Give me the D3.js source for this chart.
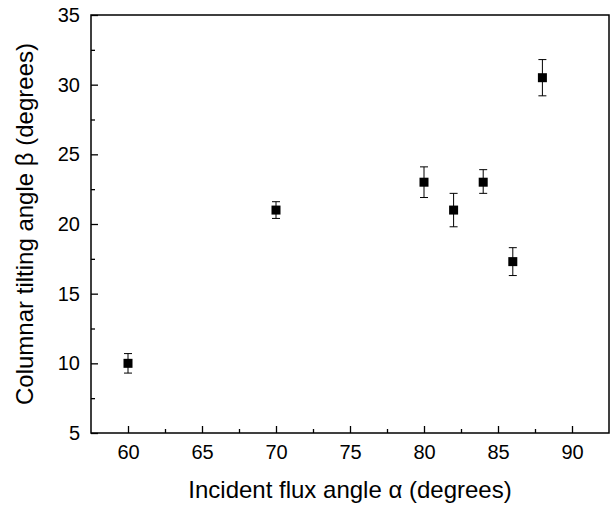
<!DOCTYPE html>
<html>
<head>
<meta charset="utf-8">
<title>Tilt angle</title>
<script src="https://d3js.org/d3.v7.min.js"></script>
<style>
body { margin: 0; background: #fff; }
text { font-family: "Liberation Sans", Arial, sans-serif; fill: #000; }
</style>
</head>
<body>
<script>
var alpha = [60, 70, 80, 82, 84, 86, 88];
var beta = [10.0, 21.0, 23.0, 21.0, 23.0, 17.3, 30.5];
var errLow = [9.3, 20.4, 21.9, 19.8, 22.2, 16.3, 29.2];
var errHigh = [10.7, 21.6, 24.1, 22.2, 23.9, 18.3, 31.8];
var xTicks = [60, 65, 70, 75, 80, 85, 90];
var yTicks = [5, 10, 15, 20, 25, 30, 35];

var margin = {top: 15, right: 5, bottom: 73, left: 91},
    width = 614 - margin.left - margin.right,
    height = 506 - margin.top - margin.bottom;

var svg = d3.select("body").append("svg")
    .attr("width", 614)
    .attr("height", 506);

var g = svg.append("g")
    .attr("transform", "translate(" + margin.left + "," + margin.top + ")");

var x = d3.scaleLinear().domain([57.5, 92.5]).range([0, width]);
var y = d3.scaleLinear().domain([5, 35]).range([height, 0]);

// minor ticks
var xMinor = d3.range(62.5, 92.5, 5);
var yMinor = d3.range(7.5, 35, 5);

g.append("g").attr("transform", "translate(0," + height + ")")
    .call(d3.axisBottom(x).tickValues(xMinor).tickSizeInner(-4).tickSizeOuter(0).tickFormat(""))
    .call(function(s) { s.select(".domain").remove(); });
g.append("g")
    .call(d3.axisLeft(y).tickValues(yMinor).tickSizeInner(-4).tickSizeOuter(0).tickFormat(""))
    .call(function(s) { s.select(".domain").remove(); });

g.append("g").attr("transform", "translate(0," + height + ")")
    .call(d3.axisBottom(x).tickValues(xTicks).tickSizeInner(-7).tickSizeOuter(0).tickPadding(12));
g.append("g")
    .call(d3.axisLeft(y).tickValues(yTicks).tickSizeInner(-7).tickSizeOuter(0).tickPadding(11));

g.selectAll(".tick line").attr("stroke", "#000").attr("stroke-width", 1.3);
g.selectAll(".tick text").style("font-size", "20px").attr("fill", "#000");
g.selectAll(".domain").remove();

// frame
g.append("rect")
    .attr("width", width).attr("height", height)
    .attr("fill", "none").attr("stroke", "#000").attr("stroke-width", 1.5);

var data = alpha.map(function(a, i) {
    return {a: a, b: beta[i], lo: errLow[i], hi: errHigh[i]};
});

var pts = g.selectAll(".pt").data(data).enter().append("g").attr("class", "pt");
pts.append("line")
    .attr("x1", function(d) { return x(d.a); })
    .attr("x2", function(d) { return x(d.a); })
    .attr("y1", function(d) { return y(d.lo); })
    .attr("y2", function(d) { return y(d.hi); })
    .attr("stroke", "#000").attr("stroke-width", 1);
["lo", "hi"].forEach(function(k) {
    pts.append("line")
        .attr("x1", function(d) { return x(d.a) - 4; })
        .attr("x2", function(d) { return x(d.a) + 4; })
        .attr("y1", function(d) { return y(d[k]); })
        .attr("y2", function(d) { return y(d[k]); })
        .attr("stroke", "#000").attr("stroke-width", 1);
});
pts.append("rect")
    .attr("x", function(d) { return x(d.a) - 4.5; })
    .attr("y", function(d) { return y(d.b) - 4.5; })
    .attr("width", 9).attr("height", 9)
    .attr("fill", "#000");

svg.append("text")
    .attr("x", margin.left + width / 2).attr("y", 498)
    .attr("text-anchor", "middle")
    .style("font-size", "24px")
    .text("Incident flux angle α (degrees)");

svg.append("text")
    .attr("transform", "translate(33," + (margin.top + height / 2) + ") rotate(-90)")
    .attr("text-anchor", "middle")
    .style("font-size", "24px")
    .text("Columnar tilting angle β (degrees)");
</script>
</body>
</html>
